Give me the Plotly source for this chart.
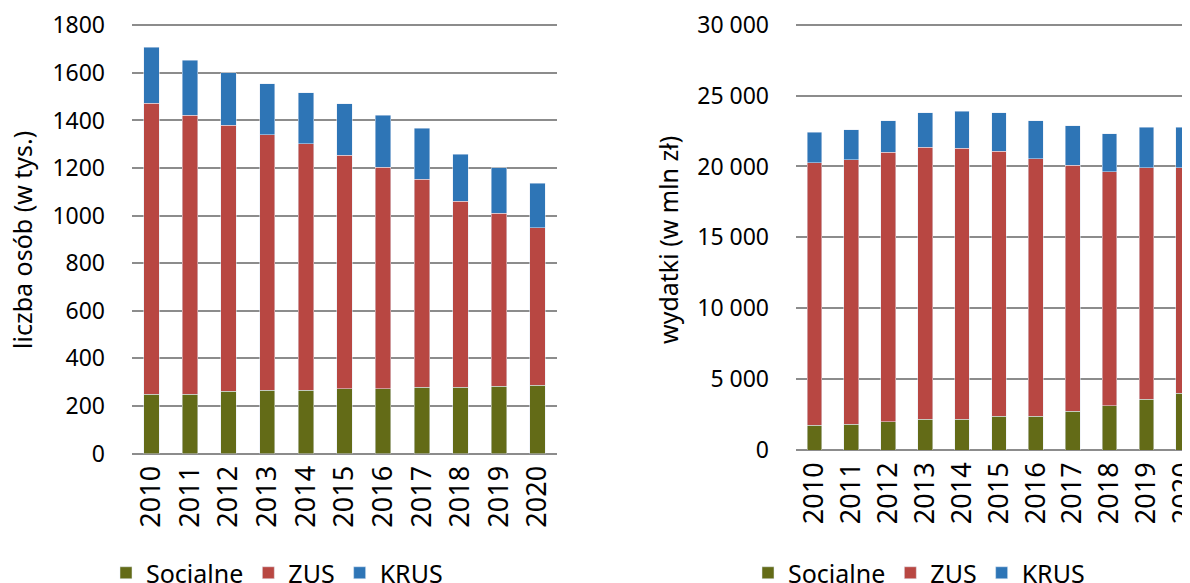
import plotly.graph_objects as go

# dane
years = [str(y) for y in range(2010, 2021)]

# liczba osób (w tys.)
osoby_socjalne = [250, 250, 261, 266, 266, 272, 272, 278, 278, 283, 287]
osoby_zus = [1222, 1172, 1119, 1074, 1036, 981, 931, 874, 782, 726, 662]
osoby_krus = [236, 231, 221, 215, 215, 217, 219, 216, 198, 192, 187]

# wydatki (w mln zł)
wydatki_socjalne = [1740, 1834, 1998, 2186, 2186, 2375, 2375, 2727, 3127, 3574, 4020]
wydatki_zus = [18526, 18644, 19020, 19185, 19114, 18713, 18173, 17351, 16504, 16339, 15893]
wydatki_krus = [2139, 2115, 2210, 2421, 2586, 2704, 2680, 2797, 2680, 2868, 2868]

left_ticks = [0, 200, 400, 600, 800, 1000, 1200, 1400, 1600, 1800]
left_ticktext = [str(v) for v in left_ticks]
right_ticks = [0, 5000, 10000, 15000, 20000, 25000, 30000]
right_ticktext = ["0", "5 000", "10 000", "15 000", "20 000", "25 000", "30 000"]

series_names = ["Socjalne", "ZUS", "KRUS"]
COLORS = ["#636B17", "#B84742", "#2E75B6"]

FONT = "Noto Sans"
TXT = "#000000"
# strona ma 8 px marginesu body, wiec wykres jest o tyle mniejszy
W, H = 1182, 575

fig = go.Figure()

for name, vals, color in zip(series_names, [osoby_socjalne, osoby_zus, osoby_krus], COLORS):
    fig.add_trace(go.Bar(x=years, y=vals, name=name, marker_color=color,
                         xaxis="x", yaxis="y", legend="legend"))

for name, vals, color in zip(series_names, [wydatki_socjalne, wydatki_zus, wydatki_krus], COLORS):
    fig.add_trace(go.Bar(x=years, y=vals, name=name, marker_color=color,
                         xaxis="x2", yaxis="y2", legend="legend2"))

grid = dict(showgrid=True, gridcolor="#8C8C8C", gridwidth=2,
            zeroline=True, zerolinecolor="#8C8C8C", zerolinewidth=2,
            showline=False, ticks="", tickfont=dict(size=23, color=TXT),
            ticklabelstandoff=26, ticklabeloverflow="allow", automargin=False)
xcommon = dict(type="category", tickangle=-90, tickfont=dict(size=27, color=TXT), showgrid=False,
               showline=False, ticks="", ticklabelstandoff=6, ticklabeloverflow="allow",
               automargin=False)

# zakresy lekko powyzej ostatniej linii siatki, zeby gorna linia byla rysowana
fig.update_layout(
    width=W, height=H,
    barmode="stack", bargap=0.6,
    plot_bgcolor="white", paper_bgcolor="white",
    font=dict(family=FONT, color=TXT),
    margin=dict(l=0, r=0, t=0, b=0, autoexpand=False),
    xaxis=dict(domain=[124 / W, 549 / W], anchor="y", **xcommon),
    yaxis=dict(domain=[(H - 445.5) / H, (H - 14.9) / H], anchor="x", range=[0, 1810],
               tickvals=left_ticks, ticktext=left_ticktext, **grid),
    xaxis2=dict(domain=[788 / W, 1.0], anchor="y2", range=[-0.5, 10.18], **xcommon),
    yaxis2=dict(domain=[(H - 442) / H, (H - 13.9) / H], anchor="x2", range=[0, 30200],
                tickvals=right_ticks, ticktext=right_ticktext, **grid),
    legend=dict(orientation="h", x=98 / W, xanchor="left", y=(H - 565) / H, yanchor="middle",
                font=dict(size=25, color=TXT), traceorder="normal"),
    legend2=dict(orientation="h", x=740 / W, xanchor="left", y=(H - 565) / H, yanchor="middle",
                 font=dict(size=25, color=TXT), traceorder="normal"),
    annotations=[
        dict(text="liczba osób (w tys.)", x=14 / W, y=(H - 232) / H, xref="paper", yref="paper",
             textangle=-90, showarrow=False, xanchor="center", yanchor="middle",
             font=dict(size=25, color=TXT)),
        dict(text="wydatki (w mln zł)", x=660 / W, y=(H - 232) / H, xref="paper", yref="paper",
             textangle=-90, showarrow=False, xanchor="center", yanchor="middle",
             font=dict(size=25, color=TXT)),
    ],
)

fig.write_html("out.html")
